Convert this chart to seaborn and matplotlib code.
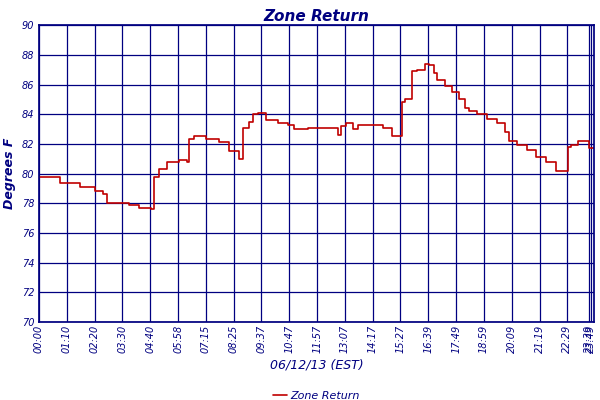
import matplotlib
matplotlib.use("Agg")
import matplotlib.pyplot as plt
import seaborn as sns
import pandas as pd

sns.set_theme(style="white")
plt.rcParams['font.family'] = ['DejaVu Sans']

# x position in tick-interval units (0 = 00:00, each gridline = 1)
pos = [0, 0.75, 1.46, 2.0, 2.29, 2.43, 3.25, 3.61, 4.04, 4.14, 4.32, 4.61, 5.04, 5.32, 5.39,
       5.57, 6.0, 6.46, 6.82, 7.18, 7.32, 7.54, 7.71, 7.89, 8.18, 8.61, 8.96, 9.18, 9.68, 10.04,
       10.75, 10.86, 11.04, 11.29, 11.46, 11.82, 12.36, 12.71, 12.89, 13.07, 13.18, 13.43, 13.61,
       13.89, 14.04, 14.21, 14.32, 14.61, 14.86, 15.11, 15.32, 15.46, 15.75, 16.11, 16.46, 16.75,
       16.89, 17.18, 17.54, 17.89, 18.25, 18.61, 18.89, 19.04, 19.14, 19.39, 19.61, 19.79, 19.96]
vals = [79.8, 79.4, 79.1, 78.8, 78.6, 78.0, 77.9, 77.7, 77.6, 79.8, 80.3, 80.8, 80.9, 80.8, 82.3,
        82.5, 82.3, 82.1, 81.5, 81.0, 83.1, 83.5, 84.0, 84.1, 83.6, 83.4, 83.3, 83.0, 83.1, 83.1,
        82.6, 83.2, 83.4, 83.0, 83.3, 83.3, 83.1, 82.5, 82.5, 84.8, 85.0, 86.9, 87.0, 87.4, 87.3,
        86.8, 86.3, 85.9, 85.5, 85.0, 84.4, 84.2, 84.0, 83.7, 83.4, 82.8, 82.2, 81.9, 81.6, 81.1,
        80.8, 80.2, 80.2, 81.8, 81.9, 82.2, 82.2, 81.7, 81.7]
tick_labels = ["00:00", "01:10", "02:20", "03:30", "04:40", "05:58", "07:15", "08:25", "09:37",
               "10:47", "11:57", "13:07", "14:17", "15:27", "16:39", "17:49", "18:59", "20:09",
               "21:19", "22:29", "23:39", "23:49"]
tick_pos = list(range(20)) + [19.78, 19.84]

navy = "#000080"
df = pd.DataFrame({"x": pos, "y": vals, "s": "Zone Return"})
fig, ax = plt.subplots(figsize=(6, 4), dpi=100)
fig.subplots_adjust(left=0.065, right=0.99, top=0.937, bottom=0.195)
sns.lineplot(data=df, x="x", y="y", hue="s", palette=["#c00000"], drawstyle="steps-post",
             linewidth=1.2, ax=ax)
ax.set_xlim(0, 19.96)
ax.set_ylim(70, 90)
ax.set_yticks(range(70, 91, 2))
ax.set_xticks(tick_pos)
ax.set_xticklabels(tick_labels, rotation=90, fontsize=7, color=navy, style="italic")
ax.tick_params(axis="y", labelsize=7, labelcolor=navy, length=0)
ax.tick_params(axis="x", length=0, pad=2)
for t in ax.get_yticklabels():
    t.set_style("italic")
ax.grid(True, color=navy, linewidth=0.9)
for s in ax.spines.values():
    s.set_color(navy)
ax.set_title("Zone Return", color=navy, style="italic", fontweight="bold", fontsize=11, pad=3)
ax.set_xlabel("06/12/13 (EST)", color=navy, style="italic", fontsize=9)
ax.set_ylabel("Degrees F", color=navy, style="italic", fontweight="bold", fontsize=9)
leg = ax.legend(loc="upper center", bbox_to_anchor=(0.5, -0.2), frameon=False, fontsize=8,
                handlelength=1.2, handletextpad=0.3)
for t in leg.get_texts():
    t.set_color(navy); t.set_style("italic")
fig.savefig("out.png", dpi=100)
